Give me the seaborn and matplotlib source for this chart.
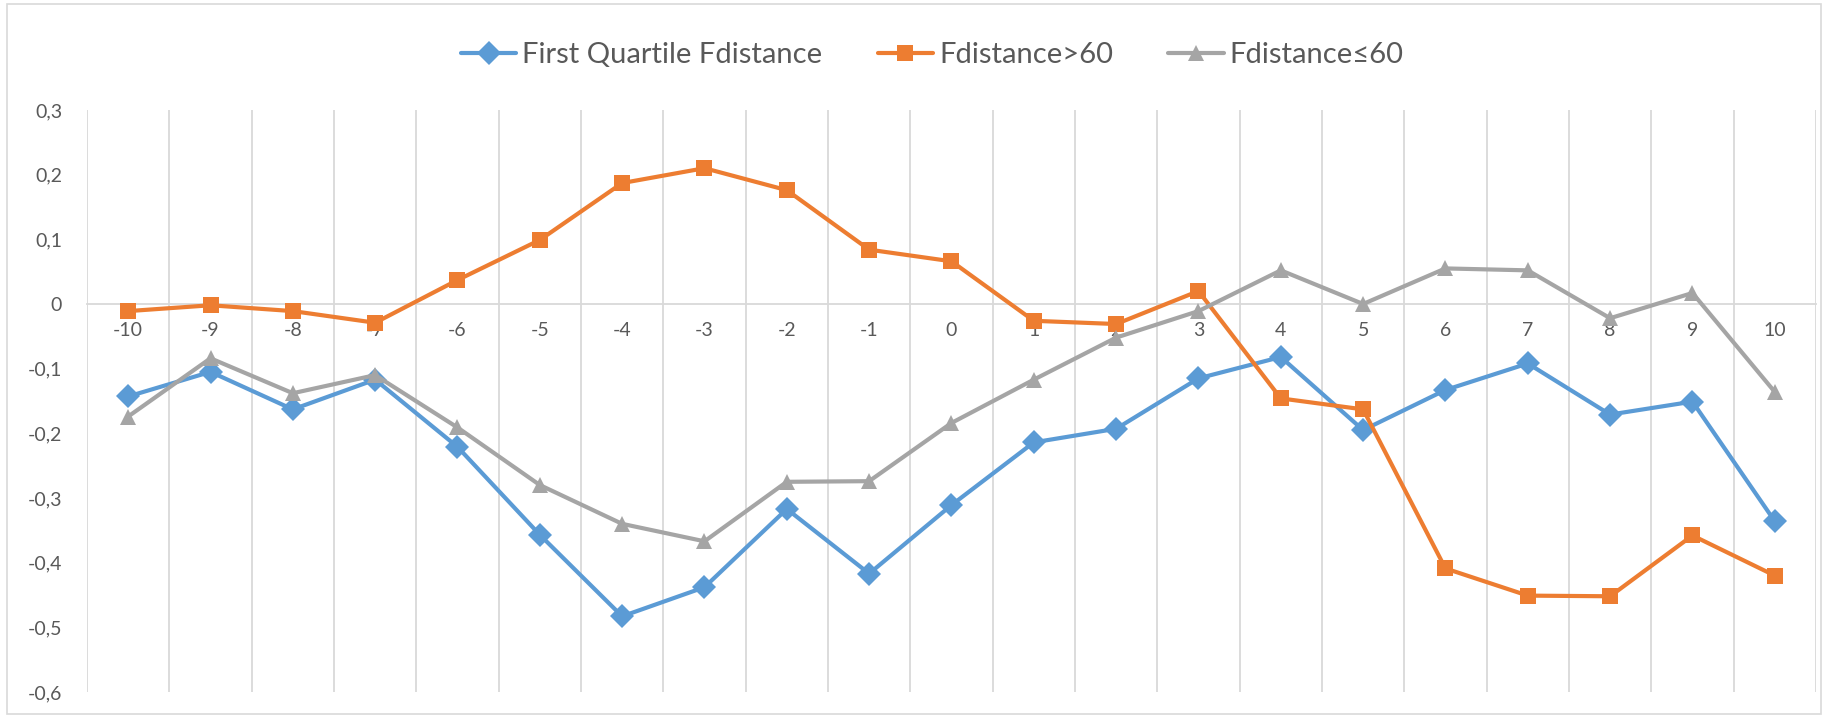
import pandas as pd
import matplotlib
matplotlib.use("Agg")
import matplotlib.pyplot as plt
import seaborn as sns
from matplotlib.ticker import FixedLocator, FuncFormatter
from matplotlib.patches import Rectangle

# data
days = list(range(-10, 11))
first_quartile = [-0.143, -0.105, -0.163, -0.117, -0.221, -0.357, -0.483, -0.438, -0.317, -0.417, -0.311,
                  -0.214, -0.193, -0.115, -0.082, -0.195, -0.133, -0.092, -0.171, -0.151, -0.336]
fdist_gt60 = [-0.011, -0.002, -0.011, -0.029, 0.037, 0.099, 0.187, 0.210, 0.176, 0.084, 0.066,
              -0.026, -0.031, 0.020, -0.146, -0.163, -0.409, -0.451, -0.452, -0.358, -0.420]
fdist_le60 = [-0.174, -0.084, -0.138, -0.110, -0.191, -0.280, -0.340, -0.367, -0.275, -0.274, -0.184,
              -0.117, -0.052, -0.011, 0.052, 0.000, 0.055, 0.052, -0.022, 0.017, -0.136]
series_names = ["First Quartile Fdistance", "Fdistance>60", "Fdistance\u226460"]
colors = ["#5B9BD5", "#ED7D31", "#A5A5A5"]
markers = ["D", "s", "^"]

df = pd.concat([
    pd.DataFrame({"day": days, "value": vals, "series": name})
    for name, vals in zip(series_names, [first_quartile, fdist_gt60, fdist_le60])
])

sns.set_theme(style="white")
plt.rcParams["font.family"] = ["Lato", "DejaVu Sans"]
plt.rcParams["axes.unicode_minus"] = False

fig = plt.figure(figsize=(18.28, 7.17), dpi=100)
ax = fig.add_axes([0.0476, 0.0349, 0.9458, 0.8117])

sns.lineplot(data=df, x="day", y="value", hue="series", style="series",
             hue_order=series_names, style_order=series_names,
             palette=dict(zip(series_names, colors)),
             markers=dict(zip(series_names, markers)), dashes=False,
             linewidth=3.0, markersize=12, markeredgewidth=0, ax=ax, zorder=3)

ax.set_xlim(-10.5, 10.5)
ax.set_ylim(-0.6, 0.3)
ax.set_xlabel("")
ax.set_ylabel("")

# category gridlines between the ticks
ax.xaxis.set_major_locator(FixedLocator(days))
ax.xaxis.set_minor_locator(FixedLocator([d + 0.5 for d in range(-11, 11)]))
ax.grid(False)
ax.grid(True, which="minor", axis="x", color="#D9D9D9", linewidth=1.3)
ax.set_yticks([0.3, 0.2, 0.1, 0, -0.1, -0.2, -0.3, -0.4, -0.5, -0.6])
ax.yaxis.set_major_formatter(FuncFormatter(
    lambda v, p: "0" if abs(v) < 1e-9 else f"{v:.1f}".replace(".", ",")))

for s in ["top", "right", "left"]:
    ax.spines[s].set_visible(False)
ax.spines["bottom"].set_position(("data", 0))
ax.spines["bottom"].set_color("#D9D9D9")
ax.spines["bottom"].set_linewidth(1.3)
ax.spines["bottom"].set_zorder(1)

ax.tick_params(axis="x", which="both", length=0, pad=13, labelsize=14, labelcolor="#595959")
ax.tick_params(axis="y", length=0, pad=18, labelsize=14, labelcolor="#595959")

leg = ax.legend(loc="center", bbox_to_anchor=(0.51, 0.923), bbox_transform=fig.transFigure,
                ncol=3, frameon=False, fontsize=21, handlelength=1.9, handletextpad=0.2,
                columnspacing=1.9, labelcolor="#595959")

fig.patches.append(Rectangle((0.004, 0.004), 0.992, 0.99, transform=fig.transFigure,
                             fill=False, edgecolor="#D9D9D9", linewidth=1.2))

fig.savefig("out.png", dpi=100)
